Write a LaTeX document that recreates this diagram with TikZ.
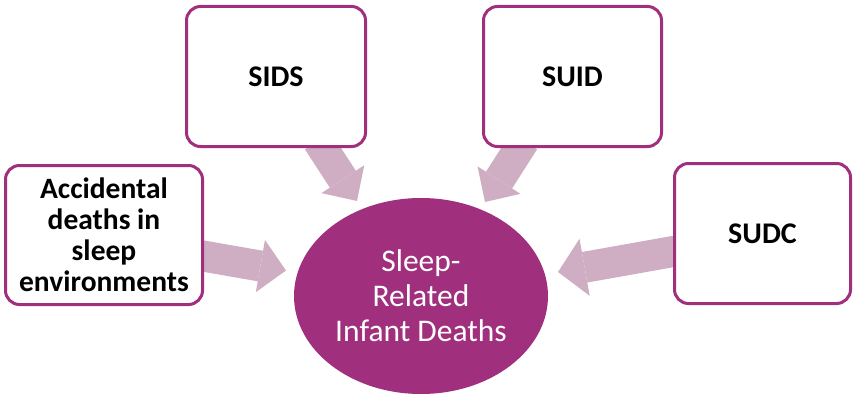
\documentclass[tikz,border=0pt]{standalone}
\usepackage{fontspec}
\setmainfont{Carlito}
\usetikzlibrary{arrows.meta,shapes.geometric}
\definecolor{plum}{HTML}{A0307D}
\definecolor{pinkarrow}{HTML}{CFAEC4}
\tikzset{
  box/.style={draw=plum, line width=3pt, fill=white, rounded corners=14pt, align=center, inner sep=0pt, font=\fontsize{30}{32}\selectfont\bfseries},
  fatarrow/.style={draw=pinkarrow, line width=31pt, line cap=butt},
}
\begin{document}
\begin{tikzpicture}[x=1pt,y=-1pt]
\useasboundingbox (0,0) rectangle (854,396);
% centre ellipse
\node[ellipse, fill=plum, minimum width=254pt, minimum height=196pt, inner sep=0pt] (center) at (421,296) {};
\node[text=white, align=center, font=\fontsize{31.5}{35}\selectfont] (ctext) at (421,296) {Sleep-\\Related\\Infant Deaths};
% arrow end points
\coordinate (a1s) at (200,255.5);
\coordinate (a1e) at (286,270.5);
\coordinate (a2s) at (318,141);
\coordinate (a2e) at (357,201);
\coordinate (a3s) at (524,141);
\coordinate (a3e) at (485,202);
\coordinate (a4s) at (676,251);
\coordinate (a4e) at (558,272);
\draw[fatarrow, -{Triangle[length=26pt, width=53pt, line width=0pt]}] (a1s) -- (a1e);
\draw[fatarrow, -{Triangle[length=26pt, width=51pt, line width=0pt]}] (a2s) -- (a2e);
\draw[fatarrow, -{Triangle[length=26pt, width=51pt, line width=0pt]}] (a3s) -- (a3e);
\draw[fatarrow, -{Triangle[length=27pt, width=58pt, line width=0pt]}] (a4s) -- (a4e);
% boxes
\node[box, minimum width=179pt, minimum height=140pt] (sids) at (276,76.5) {SIDS};
\node[box, minimum width=178pt, minimum height=140pt] (suid) at (572.5,76.5) {SUID};
\node[box, minimum width=197pt, minimum height=139pt, font=\fontsize{29.5}{31}\selectfont\bfseries] (acc) at (104,235) {Accidental\\deaths in\\sleep\\environments};
\node[box, minimum width=176pt, minimum height=140pt] (sudc) at (762.5,233.5) {SUDC};
\end{tikzpicture}
\end{document}
